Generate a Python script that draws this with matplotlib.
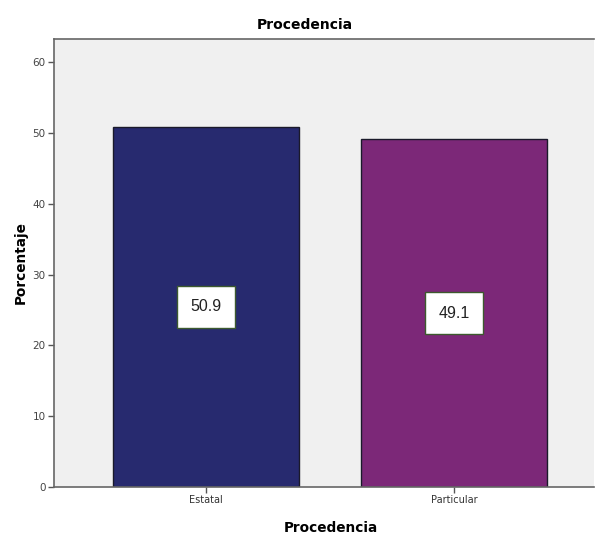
import matplotlib
matplotlib.use("Agg")
import matplotlib.pyplot as plt

categories = ["Estatal", "Particular"]
values = [50.9, 49.1]
labels = ["50.9", "49.1"]
colors = ["#272a6f", "#7c2878"]

fig = plt.figure(figsize=(5.95, 5.37), dpi=100)
ax = fig.add_axes([54/595, 1-487/537, 540/595, (487-39)/537])
ax.set_facecolor("#f0f0f0")

x = list(range(len(categories)))
ax.bar(x, values, width=0.75, color=colors, edgecolor="#1a1a2a", linewidth=1.0, zorder=2)
for xi, v, lab in zip(x, values, labels):
    ax.text(xi, v/2, lab, ha="center", va="center", fontsize=11.5, color="#222222",
            family="Liberation Sans",
            bbox=dict(boxstyle="square,pad=0.85", facecolor="white", edgecolor="#3d5a2e", linewidth=1.0),
            zorder=3)

ax.set_xlim(-0.613, 1.565)
ax.set_ylim(0, 63.3)
ax.set_yticks([0, 10, 20, 30, 40, 50, 60])
ax.set_xticks(x)
ax.set_xticklabels(categories, fontsize=7, family="Liberation Sans Narrow", color="#333333")
for t in ax.get_yticklabels():
    t.set_fontsize(7.5)
    t.set_color("#444444")
ax.tick_params(axis="both", length=4, width=1, color="#555555", pad=2)
ax.spines["right"].set_visible(False)
for s in ["left", "bottom", "top"]:
    ax.spines[s].set_color("#666666")
    ax.spines[s].set_linewidth(1.2)

ax.set_title("Procedencia", fontsize=10, fontweight="bold", pad=7, x=0.465)
ax.set_xlabel("Procedencia", fontsize=9.8, fontweight="bold")
ax.xaxis.set_label_coords(0.513, -0.075)
ax.set_ylabel("Porcentaje", fontsize=9.8, fontweight="bold")
ax.yaxis.set_label_coords(-0.048, 0.5)

fig.savefig("out.png", dpi=100, facecolor="white")
